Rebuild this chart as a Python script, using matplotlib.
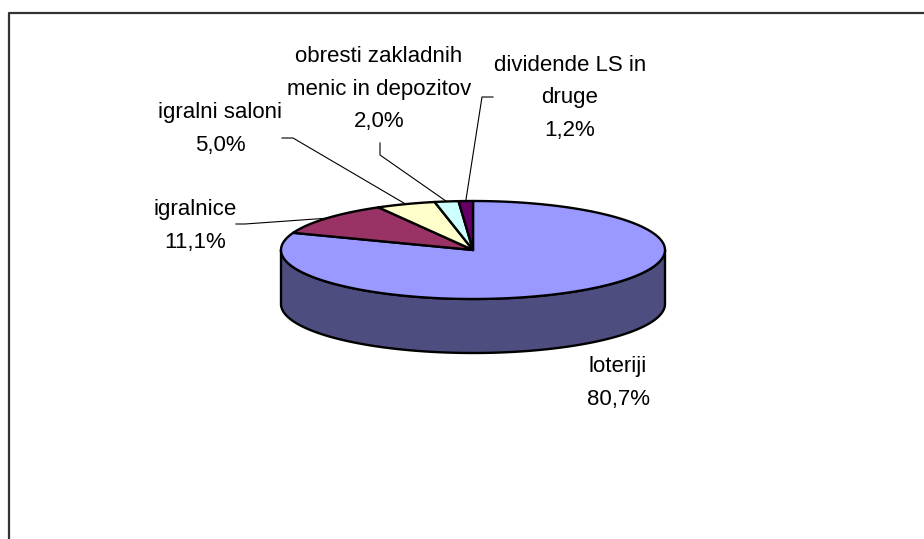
import numpy as np
import matplotlib
matplotlib.use("Agg")
import matplotlib.pyplot as plt
from matplotlib.patches import Polygon

# data
categories = ["loteriji", "igralnice", "igralni saloni",
              "obresti zakladnih\nmenic in depozitov", "dividende LS in\ndruge"]
shares = [80.7, 11.1, 5.0, 2.0, 1.2]
top_colors = ["#9999FF", "#993366", "#FFFFCC", "#CCFFFF", "#660066"]
side_colors = ["#4D4D80", "#4D1A33", "#808066", "#668080", "#330033"]

# layout (pixel coords, y down)
cx, cy, rx, ry, depth = 473, 250, 192, 49, 54
label_xy = [(618, 383), (195, 226), (220, 129), (379, 89), (570, 98)]
# leader lines: label-side points, the last point goes to the slice edge
leaders = [None, [(236, 224), (245, 224)], [(282, 138), (293, 138)],
           [(380, 143), (380, 155)], [(493, 97), (482, 97)]]

plt.rcParams['font.family'] = ['Liberation Sans Narrow', 'Liberation Sans', 'DejaVu Sans']

fig = plt.figure(figsize=(9.24, 5.39), dpi=100)
ax = fig.add_axes([0, 0, 1, 1])
ax.set_xlim(0, 924)
ax.set_ylim(539, 0)
ax.axis('off')


def pt(theta, dy=0.0):
    t = np.radians(theta)
    return cx + rx * np.cos(t), cy - ry * np.sin(t) + dy


total = sum(shares)
bounds = [90.0]
for v in shares:
    bounds.append(bounds[-1] - 360.0 * v / total)

# side walls (front half only: standard angles 180..360)
for i in range(len(shares)):
    a_hi, a_lo = bounds[i], bounds[i + 1]
    for k in (-360, 0, 360):
        lo = max(a_lo + k, 180)
        hi = min(a_hi + k, 360)
        if hi <= lo:
            continue
        th = np.linspace(lo, hi, 200)
        top = [pt(t) for t in th]
        bot = [pt(t, depth) for t in th[::-1]]
        ax.add_patch(Polygon(top + bot, closed=True, facecolor=side_colors[i],
                             edgecolor='black', lw=1.7, joinstyle='round'))

# top wedges
for i in range(len(shares)):
    th = np.linspace(bounds[i], bounds[i + 1], 300)
    verts = [(cx, cy)] + [pt(t) for t in th]
    ax.add_patch(Polygon(verts, closed=True, facecolor=top_colors[i],
                         edgecolor='black', lw=1.7, joinstyle='round'))

# labels and leader lines
for i, (name, v) in enumerate(zip(categories, shares)):
    txt = name + "\n" + f"{v:.1f}".replace('.', ',') + "%"
    x, y = label_xy[i]
    ax.text(x, y, txt, ha='center', va='center', fontsize=16,
            linespacing=1.74, color='black')
    if leaders[i] is not None:
        mid = (bounds[i] + bounds[i + 1]) / 2
        ex, ey = pt(mid)
        xs = [p[0] for p in leaders[i]] + [ex]
        ys = [p[1] for p in leaders[i]] + [ey]
        ax.plot(xs, ys, color='black', lw=0.8)

# chart area border (left and top visible)
ax.plot([8.5, 8.5, 930], [545, 12.5, 12.5], color='#333333', lw=1.6,
        clip_on=False)

fig.savefig("out.png", dpi=100)
